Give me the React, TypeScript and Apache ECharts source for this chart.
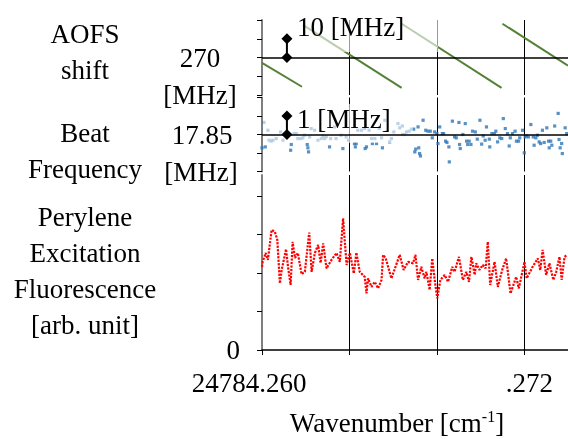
import React, { useEffect, useRef } from "react";
import * as echarts from "echarts";

// x values are offsets in units of 0.001 cm^-1 from 24784.260
const xTickValues = [0, 4, 8, 12];
const xLabelValues = [0, 12];
const xLabelTexts = ["24784.260", ".272"];
const xAxisName = ["Wavenumber [cm", "-1", "]"];

// AOFS shift panel [MHz]
const aofsTicks = [250, 260, 270, 280, 290];
const aofsLabelValues = [270];
const aofsSegments: number[][][] = [
  [[0, 267.1], [1.83, 254.4]],
  [[1.87, 287.4], [6.39, 253.8]],
  [[6.39, 288.0], [10.96, 253.8]],
  [[11.0, 288.0], [14, 265.7]],
];
const aofsScaleBar = [[1.14, 280], [1.14, 270]];

// Beat frequency panel [MHz]
const beatTicks = [15.85, 16.85, 17.85, 18.85, 19.85];
const beatLabelValues = [17.85];
const beatScaleBar = [[1.14, 18.85], [1.14, 17.85]];
const beatPoints = [
  [0.0, 17.13], [0.09, 18.5], [0.15, 17.18], [0.27, 18.08], [0.32, 17.54], [0.42, 17.49], [0.5, 17.54],
  [0.65, 17.63], [0.85, 17.99], [0.96, 17.54], [1.31, 17.0], [1.34, 17.31], [1.46, 17.9], [1.57, 17.9],
  [1.64, 17.63], [1.77, 17.63], [1.87, 17.67], [1.95, 17.81], [2.07, 17.31], [2.1, 17.13], [2.13, 16.91],
  [2.18, 17.72], [2.25, 18.17], [2.41, 18.08], [2.56, 17.54], [2.71, 17.63], [2.79, 17.77], [2.86, 17.63],
  [2.94, 17.72], [3.09, 17.18], [3.14, 17.63], [3.32, 18.26], [3.39, 17.63], [3.62, 17.81], [3.7, 17.09],
  [3.85, 17.72], [3.96, 17.54], [4.23, 17.36], [4.31, 17.36], [4.27, 17.18], [4.38, 18.08], [4.55, 18.08],
  [4.7, 18.17], [4.78, 17.18], [4.72, 17.09], [4.9, 18.08], [5.01, 17.63], [5.05, 17.36], [5.16, 17.63],
  [5.24, 17.36], [5.36, 18.17], [5.47, 17.67], [5.51, 17.13], [5.62, 18.62], [5.84, 17.45], [5.92, 17.63],
  [6.03, 17.99], [6.22, 18.44], [6.3, 18.21], [6.42, 18.31], [6.43, 17.85], [6.53, 17.85], [6.61, 17.99],
  [6.73, 18.03], [6.84, 18.14], [6.94, 18.14], [7.03, 17.06], [6.99, 16.91], [7.17, 17.13], [7.21, 16.82],
  [7.25, 16.69], [7.14, 18.26], [7.37, 18.62], [7.49, 18.08], [7.59, 18.03], [7.7, 18.03], [7.79, 17.67],
  [7.9, 17.99], [8.0, 17.9], [8.05, 17.36], [8.13, 18.26], [8.25, 17.9], [8.31, 17.9], [8.4, 17.49],
  [8.46, 17.42], [8.55, 17.18], [8.57, 16.37], [8.71, 18.57], [8.81, 17.72], [8.89, 17.67], [9.01, 18.5],
  [9.04, 17.31], [9.07, 17.09], [9.19, 17.85], [9.3, 18.44], [9.36, 17.49], [9.48, 17.49], [9.41, 17.31],
  [9.56, 17.31], [9.63, 18.03], [9.76, 17.99], [9.85, 17.6], [9.97, 18.62], [10.05, 17.33], [10.12, 17.77],
  [10.21, 17.54], [10.27, 18.26], [10.4, 17.6], [10.42, 17.18], [10.52, 17.9], [10.63, 17.9], [10.7, 18.03],
  [10.78, 17.45], [10.88, 17.67], [10.97, 17.63], [11.04, 18.71], [11.13, 18.17], [11.23, 17.9], [11.31, 17.23],
  [11.36, 17.67], [11.46, 17.9], [11.58, 18.03], [11.64, 17.49], [11.74, 17.49], [11.79, 17.67], [11.92, 18.08],
  [12.0, 16.86], [12.04, 17.72], [12.1, 17.77], [12.19, 17.72], [12.3, 18.39], [12.41, 17.72], [12.45, 17.27],
  [12.53, 17.67], [12.6, 17.81], [12.68, 17.45], [12.75, 17.36], [12.83, 18.08], [12.91, 17.42], [13.03, 18.21],
  [13.11, 17.49], [13.14, 17.13], [13.21, 17.49], [13.26, 17.27], [13.39, 18.31], [13.55, 18.99], [13.59, 17.58],
  [13.64, 17.13], [13.71, 17.36], [13.74, 16.82], [13.87, 18.21], [13.94, 17.9],
];

// Perylene excitation fluorescence [arb. unit]
const fluorTicks = [0, 1, 2, 3, 4];
const fluorLabelValues = [0];
const fluorPoints = [
  [0.0, 2.16], [0.03, 2.29], [0.17, 2.52], [0.27, 2.34], [0.44, 3.12], [0.59, 3.07], [0.7, 2.86], [0.82, 1.73],
  [0.9, 2.08], [1.1, 2.62], [1.19, 2.16], [1.31, 1.69], [1.4, 2.81], [1.51, 2.39], [1.64, 2.52], [1.81, 1.97],
  [1.96, 2.03], [2.16, 3.05], [2.27, 2.03], [2.42, 2.52], [2.57, 2.73], [2.68, 2.26], [2.8, 2.77], [2.95, 2.12],
  [3.18, 2.34], [3.41, 2.52], [3.56, 2.29], [3.71, 3.42], [3.87, 2.21], [4.02, 2.52], [4.2, 1.99], [4.32, 2.53],
  [4.47, 2.03], [4.7, 1.9], [4.78, 1.47], [4.85, 1.86], [5.01, 1.64], [5.16, 1.77], [5.31, 1.6], [5.47, 1.82],
  [5.54, 2.47], [5.66, 2.38], [5.92, 1.86], [6.3, 2.47], [6.48, 2.08], [6.68, 2.29], [6.91, 2.25], [7.02, 2.47],
  [7.14, 1.82], [7.29, 2.16], [7.44, 1.86], [7.52, 2.03], [7.67, 1.56], [7.79, 2.38], [7.9, 1.82], [8.02, 1.34],
  [8.16, 1.82], [8.36, 1.95], [8.51, 1.77], [8.71, 2.16], [8.81, 2.03], [9.01, 2.42], [9.19, 1.82], [9.35, 2.03],
  [9.47, 1.77], [9.58, 2.42], [9.73, 1.95], [9.8, 2.25], [9.95, 2.08], [10.1, 2.21], [10.23, 2.12], [10.33, 2.81],
  [10.44, 1.69], [10.64, 2.29], [10.79, 1.64], [10.99, 2.08], [11.17, 2.38], [11.37, 1.47], [11.63, 1.9],
  [11.75, 1.6], [12.01, 2.29], [12.11, 1.86], [12.38, 2.16], [12.62, 2.38], [12.73, 2.08], [12.84, 2.6],
  [13.0, 1.95], [13.15, 2.25], [13.33, 1.82], [13.46, 2.03], [13.61, 2.42], [13.71, 1.82], [13.84, 2.42],
  [13.96, 2.47],
];

const leftTitles = ["AOFS\nshift", "Beat\nFrequency", "Perylene\nExcitation\nFluorescence\n[arb. unit]"];
const unitTexts = ["[MHz]", "[MHz]"];
const scaleTexts = ["10 [MHz]", "1 [MHz]"];

const FONT = "'Liberation Serif', 'Times New Roman', serif";
const FS = 27;

export default function App() {
  const ref = useRef<HTMLDivElement>(null);
  useEffect(() => {
    if (!ref.current) return;
    const chart = echarts.init(ref.current, undefined, { renderer: "svg" });
    const labelStyle = { fontSize: FS, fontFamily: FONT, color: "#000" };
    const yLine = { show: true, lineStyle: { color: "#7f7f7f", width: 2 } };
    const yTick = (vals: number[]) => ({
      show: true,
      length: 5,
      customValues: vals,
      lineStyle: { color: "#000", width: 1 },
    });
    const xBase = (i: number) => ({
      type: "value",
      gridIndex: i,
      min: 0,
      max: 14,
      interval: 4,
      splitLine: { show: true, lineStyle: { color: "#000", width: 1 } },
      axisLine: { show: false },
      axisTick: { show: false },
      axisLabel: { show: false },
    });
    const hLine = (v: number) => ({
      silent: true,
      symbol: ["none", "none"],
      label: { show: false },
      lineStyle: { color: "#000", width: 1.5, type: "solid" },
      data: [{ yAxis: v }],
    });
    const scaleBar = (i: number, data: number[][]) => ({
      type: "line",
      xAxisIndex: i,
      yAxisIndex: i,
      data,
      symbol: "diamond",
      symbolSize: [11, 11],
      showSymbol: true,
      lineStyle: { color: "#000", width: 2 },
      itemStyle: { color: "#000" },
      z: 10,
      clip: false,
    });

    const option: any = {
      animation: false,
      grid: [
        { left: 262, right: -1, top: 20, height: 75 },
        { left: 262, right: -1, top: 97.5, height: 74 },
        { left: 262, right: -1, top: 175, height: 175 },
      ],
      xAxis: [
        xBase(0),
        xBase(1),
        {
          ...xBase(2),
          axisLine: { show: true, lineStyle: { color: "#000", width: 1.5 } },
          axisTick: { show: true, length: 5, customValues: xTickValues, lineStyle: { color: "#000" } },
          axisLabel: {
            show: true,
            customValues: xLabelValues,
            margin: 18,
            ...labelStyle,
            lineHeight: 30,
            formatter: (v: number) => {
              const i = xLabelValues.indexOf(v);
              return i === 0 ? `{l|${xLabelTexts[0]}}` : `{r|${xLabelTexts[i]}}`;
            },
            rich: {
              l: { fontSize: FS, fontFamily: FONT, color: "#000", padding: [0, 26, 0, 0] },
              r: { fontSize: FS, fontFamily: FONT, color: "#000", padding: [0, 0, 0, 10] },
            },
          },
        },
      ],
      yAxis: [
        {
          type: "value",
          gridIndex: 0,
          min: 250,
          max: 290,
          interval: 10,
          axisLine: yLine,
          axisTick: yTick(aofsTicks),
          axisLabel: { customValues: aofsLabelValues, margin: 62, align: "center", ...labelStyle },
          splitLine: { show: false },
        },
        {
          type: "value",
          gridIndex: 1,
          min: 15.85,
          max: 19.85,
          axisLine: yLine,
          axisTick: yTick(beatTicks),
          axisLabel: {
            customValues: beatLabelValues,
            margin: 60,
            align: "center",
            ...labelStyle,
            formatter: (v: number) => v.toFixed(2),
          },
          splitLine: { show: false },
        },
        {
          type: "value",
          gridIndex: 2,
          min: 0,
          max: 4.545,
          axisLine: yLine,
          axisTick: yTick(fluorTicks),
          axisLabel: { customValues: fluorLabelValues, margin: 22, ...labelStyle },
          splitLine: { show: false },
        },
      ],
      series: [
        ...aofsSegments.map((seg, k) => ({
          type: "line",
          xAxisIndex: 0,
          yAxisIndex: 0,
          data: seg,
          symbol: "none",
          lineStyle: { color: "#548235", width: 2, type: "solid" },
          z: 2,
          ...(k === 0 ? { markLine: hLine(270) } : {}),
        })),
        scaleBar(0, aofsScaleBar),
        {
          type: "scatter",
          xAxisIndex: 1,
          yAxisIndex: 1,
          data: beatPoints,
          symbol: "rect",
          symbolSize: 3.2,
          itemStyle: { color: "#2e75b6" },
          z: 2,
          markLine: hLine(17.85),
        },
        scaleBar(1, beatScaleBar),
        {
          type: "line",
          xAxisIndex: 2,
          yAxisIndex: 2,
          data: fluorPoints,
          symbol: "none",
          lineStyle: { color: "#ff0000", width: 2.2, type: [2.2, 1.3] },
          z: 2,
        },
      ],
      graphic: [
        { type: "rect", z: 3, shape: { x: 263, y: 17, width: 175, height: 35 }, style: { fill: "rgba(255,255,255,0.6)" } },
        { type: "rect", z: 3, shape: { x: 263, y: 104, width: 150, height: 39 }, style: { fill: "rgba(255,255,255,0.6)" } },
        ...[
          [85, 52],
          [85, 151],
          [85, 271],
        ].map(([x, y], i) => ({
          type: "text",
          x,
          y,
          z: 11,
          style: {
            text: leftTitles[i],
            fill: "#000",
            fontSize: FS,
            fontFamily: FONT,
            lineHeight: 36,
            align: "center",
            verticalAlign: "middle",
            textAlign: "center",
            textVerticalAlign: "middle",
          },
        })),
        ...[
          [200, 95],
          [201, 172],
        ].map(([x, y], i) => ({
          type: "text",
          x,
          y,
          z: 11,
          style: {
            text: unitTexts[i],
            fill: "#000",
            fontSize: FS,
            fontFamily: FONT,
            align: "center",
            verticalAlign: "middle",
            textAlign: "center",
            textVerticalAlign: "middle",
          },
        })),
        ...[
          [297, 27],
          [297, 119],
        ].map(([x, y], i) => ({
          type: "text",
          x,
          y,
          z: 11,
          style: {
            text: scaleTexts[i],
            fill: "#000",
            fontSize: FS,
            fontFamily: FONT,
            align: "left",
            verticalAlign: "middle",
            textAlign: "left",
            textVerticalAlign: "middle",
          },
        })),
        {
          type: "text",
          x: 397,
          y: 423,
          z: 11,
          style: {
            text: `{a|${xAxisName[0]}}{s|${xAxisName[1]}}{a|${xAxisName[2]}}`,
            rich: {
              a: { fontSize: FS, fontFamily: FONT, fill: "#000", color: "#000", lineHeight: 30 },
              s: { fontSize: 16, fontFamily: FONT, fill: "#000", color: "#000", verticalAlign: "top", lineHeight: 30 },
            },
            align: "center",
            verticalAlign: "middle",
            textAlign: "center",
            textVerticalAlign: "middle",
          },
        },
      ],
    };
    chart.setOption(option);
    return () => chart.dispose();
  }, []);
  return <div ref={ref} style={{ position: "fixed", left: 0, top: 0, width: 568, height: 439 }} />;
}
